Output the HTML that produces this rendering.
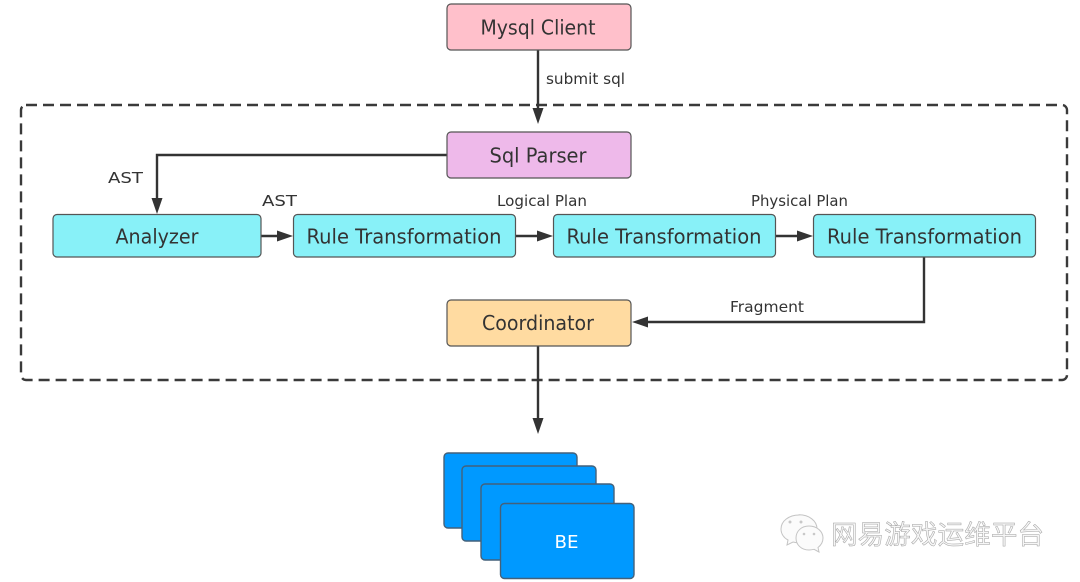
<!DOCTYPE html>
<html>
<head>
<meta charset="utf-8">
<style>
html,body{margin:0;padding:0;background:#fff;width:1080px;height:582px;overflow:hidden}
svg{display:block}
text{font-family:"DejaVu Sans","Liberation Sans",sans-serif;fill:#333}
.n{font-size:20px;text-anchor:middle}
.l{font-size:15px}
.b{stroke:#555;stroke-width:1.2}
.c{fill:none;stroke:#333;stroke-width:2.4}
.h{fill:#333}
.w{font-family:"Liberation Sans","Noto Sans CJK SC",sans-serif;font-size:26.5px;fill:#f6f6f6;stroke:#a0a0a0;stroke-width:.5px}
</style>
</head>
<body>
<svg width="1080" height="582" viewBox="0 0 1080 582" xmlns="http://www.w3.org/2000/svg">
<rect x="21" y="105" width="1046" height="275" rx="5" fill="none" stroke="#3a3a3a" stroke-width="2.4" stroke-dasharray="11 6"/>

<path class="c" d="M538 50V110"/>
<path class="h" d="M532.500 108H543.500L538 124Z"/>
<path class="c" d="M447 155H157V200"/>
<path class="h" d="M151.500 198H162.500L157 214Z"/>
<path class="c" d="M261 236H278"/>
<path class="h" d="M277 230.500V241.500L293 236Z"/>
<path class="c" d="M515 236H538"/>
<path class="h" d="M537 230.500V241.500L553 236Z"/>
<path class="c" d="M775 236H798"/>
<path class="h" d="M797 230.500V241.500L813 236Z"/>
<path class="c" d="M924 257V322H647"/>
<path class="h" d="M648 316.500V327.500L632 322Z"/>
<path class="c" d="M538 346V420"/>
<path class="h" d="M532.500 418H543.500L538 434Z"/>

<rect class="b" x="447" y="4" width="184" height="46" rx="4" fill="#ffc0cb"/>
<rect class="b" x="447" y="132" width="184" height="46" rx="4" fill="#eeb9ea"/>
<rect class="b" x="53" y="214.500" width="208" height="42.500" rx="4" fill="#88f1f8"/>
<rect class="b" x="293.500" y="214.500" width="222" height="42.500" rx="4" fill="#88f1f8"/>
<rect class="b" x="553.500" y="214.500" width="222" height="42.500" rx="4" fill="#88f1f8"/>
<rect class="b" x="813.500" y="214.500" width="222" height="42.500" rx="4" fill="#88f1f8"/>
<rect class="b" x="447" y="300" width="184" height="46" rx="4" fill="#ffdba1"/>

<g stroke="#44617a" stroke-width="1.4" fill="#0099ff">
<rect x="444" y="453" width="133" height="75" rx="4"/>
<rect x="462" y="466" width="134" height="75" rx="4"/>
<rect x="481" y="484" width="133" height="76" rx="4"/>
<rect x="500.500" y="503.500" width="133.500" height="75" rx="4"/>
</g>

<text class="n" x="538" y="34.500" textLength="115" lengthAdjust="spacingAndGlyphs">Mysql Client</text>
<text class="n" x="538" y="162.500" textLength="97" lengthAdjust="spacingAndGlyphs">Sql Parser</text>
<text class="n" x="157" y="243.500" textLength="83" lengthAdjust="spacingAndGlyphs">Analyzer</text>
<text class="n" x="404" y="243.500" textLength="195" lengthAdjust="spacingAndGlyphs">Rule Transformation</text>
<text class="n" x="664" y="243.500" textLength="195" lengthAdjust="spacingAndGlyphs">Rule Transformation</text>
<text class="n" x="924.500" y="243.500" textLength="195" lengthAdjust="spacingAndGlyphs">Rule Transformation</text>
<text class="n" x="538" y="330" textLength="112" lengthAdjust="spacingAndGlyphs">Coordinator</text>
<text class="n" x="566.500" y="548" style="fill:#fff;font-size:18px" textLength="24" lengthAdjust="spacingAndGlyphs">BE</text>

<text class="l" x="546" y="84" textLength="79" lengthAdjust="spacingAndGlyphs">submit sql</text>
<text class="l" x="108" y="183" textLength="35" lengthAdjust="spacingAndGlyphs">AST</text>
<text class="l" x="262" y="206" textLength="35" lengthAdjust="spacingAndGlyphs">AST</text>
<text class="l" x="497" y="206" textLength="90" lengthAdjust="spacingAndGlyphs">Logical Plan</text>
<text class="l" x="751" y="206" textLength="97" lengthAdjust="spacingAndGlyphs">Physical Plan</text>
<text class="l" x="730" y="312" textLength="74" lengthAdjust="spacingAndGlyphs">Fragment</text>

<g fill="#fbfbfb" stroke="#c4c4c4" stroke-width="1">
<path d="M799 515c-10 0-18 6-18 14 0 5 3 9 7 11l-1 5 6-3c2 .5 4 .8 6 .8 10 0 18-6 18-14s-8-14-18-14z"/>
<path d="M809 526c-8 0-13 5.500-13 12s5 12 13 12c2 0 3-.2 5-.7l5 2.700-1-4.500c3-2.300 5-5.500 5-9.500 0-6.500-6-12-14-12z"/>
</g>
<g fill="#c8c8c8"><circle cx="790" cy="522" r="1.500"/><circle cx="801" cy="522" r="1.500"/><circle cx="804" cy="534" r="1.300"/><circle cx="814" cy="534" r="1.300"/></g>
<text class="w" x="831" y="544" textLength="213">网易游戏运维平台</text>
</svg>
</body>
</html>
